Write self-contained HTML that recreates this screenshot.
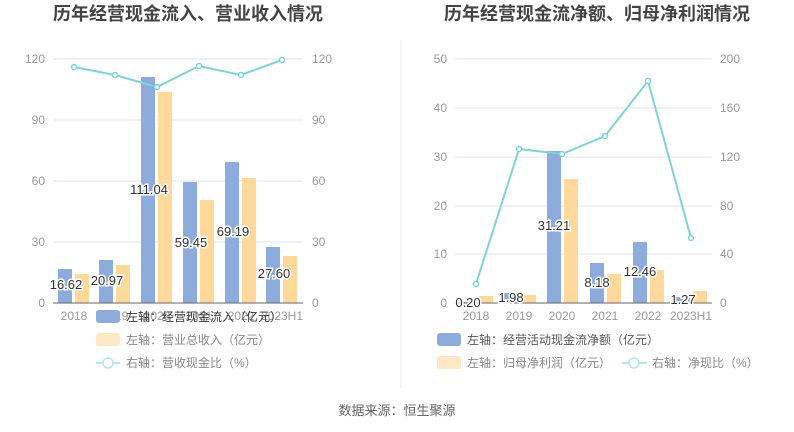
<!DOCTYPE html>
<html><head><meta charset="utf-8"><style>
body{margin:0;background:#fff;}
svg{display:block;font-family:"Liberation Sans","Noto Sans CJK SC",sans-serif;}
.ax{fill:#999;font-size:12px;}
.lg{fill:#888;font-size:12px;}
.lb{fill:#333;font-size:13px;stroke:#fff;stroke-width:3px;paint-order:stroke;}
</style></head><body>
<svg width="794" height="432" viewBox="0 0 794 432">
<rect width="794" height="432" fill="#fff"/>
<text x="188" y="20" text-anchor="middle" font-size="18" font-weight="bold" fill="#444">历年经营现金流入、营业收入情况</text>
<text x="597" y="20" text-anchor="middle" font-size="18" font-weight="bold" fill="#444">历年经营现金流净额、归母净利润情况</text>
<line x1="401" y1="40" x2="401" y2="388" stroke="#eee"/>
<g stroke="#e0e6f1">
<line x1="53" y1="59" x2="303" y2="59"/><line x1="53" y1="120" x2="303" y2="120"/><line x1="53" y1="181" x2="303" y2="181"/><line x1="53" y1="242" x2="303" y2="242"/>
<line x1="455" y1="59" x2="712" y2="59"/><line x1="455" y1="108" x2="712" y2="108"/><line x1="455" y1="157" x2="712" y2="157"/><line x1="455" y1="206" x2="712" y2="206"/><line x1="455" y1="254" x2="712" y2="254"/>
</g>
<g class="ax" text-anchor="end">
<text x="45" y="63">120</text><text x="45" y="124">90</text><text x="45" y="185">60</text><text x="45" y="246">30</text><text x="45" y="307">0</text>
<text x="447" y="63">50</text><text x="447" y="112">40</text><text x="447" y="161">30</text><text x="447" y="210">20</text><text x="447" y="258">10</text><text x="447" y="307">0</text>
</g>
<g class="ax">
<text x="312" y="63">120</text><text x="312" y="124">90</text><text x="312" y="185">60</text><text x="312" y="246">30</text><text x="312" y="307">0</text>
<text x="720" y="63">200</text><text x="720" y="112">160</text><text x="720" y="161">120</text><text x="720" y="210">80</text><text x="720" y="258">40</text><text x="720" y="307">0</text>
</g>
<g fill="#8eacdb">
<rect x="58" y="269" width="14" height="34"/><rect x="99" y="260" width="14" height="43"/><rect x="141" y="77" width="14" height="226"/><rect x="183" y="182" width="14" height="121"/><rect x="225" y="162" width="14" height="141"/><rect x="266" y="247" width="14" height="56"/>
</g>
<g fill="#ffd99b">
<rect x="75" y="274" width="14" height="29"/><rect x="116" y="265" width="14" height="38"/><rect x="158" y="92" width="14" height="211"/><rect x="200" y="200" width="14" height="103"/><rect x="242" y="178" width="14" height="125"/><rect x="283" y="256" width="14" height="47"/>
</g>
<line x1="53" y1="303" x2="303" y2="303" stroke="#666"/>
<polyline points="74,67 115,75 157,87 199,66 241,75 282,60" fill="none" stroke="#7fd3d8" stroke-width="2"/>
<g fill="#fff" stroke="#7fd3d8" stroke-width="1.5">
<circle cx="74" cy="67" r="2.5"/><circle cx="115" cy="75" r="2.5"/><circle cx="157" cy="87" r="2.5"/><circle cx="199" cy="66" r="2.5"/><circle cx="241" cy="75" r="2.5"/><circle cx="282" cy="60" r="2.5"/>
</g>
<g class="ax" text-anchor="middle"><text x="74" y="320">2018</text><text x="115" y="320">2019</text><text x="157" y="320">2020</text><text x="199" y="320">2021</text><text x="241" y="320">2022</text><text x="282" y="320">2023H1</text></g>
<g class="lb" text-anchor="middle"><text x="66" y="289">16.62</text><text x="107" y="285">20.97</text><text x="149" y="194">111.04</text><text x="191" y="247">59.45</text><text x="233" y="236">69.19</text><text x="274" y="278">27.60</text></g>
<g fill="#8eacdb">
<rect x="461" y="302" width="14" height="1"/><rect x="504" y="293" width="14" height="10"/><rect x="547" y="151" width="14" height="152"/><rect x="590" y="263" width="14" height="40"/><rect x="633" y="242" width="14" height="61"/><rect x="676" y="297" width="14" height="6"/>
</g>
<g fill="#ffd99b">
<rect x="479" y="296" width="14" height="7"/><rect x="522" y="295" width="14" height="8"/><rect x="564" y="179" width="14" height="124"/><rect x="607" y="274" width="14" height="29"/><rect x="650" y="270" width="14" height="33"/><rect x="693" y="291" width="14" height="12"/>
</g>
<line x1="455" y1="303" x2="712" y2="303" stroke="#666"/>
<polyline points="476,284 519,149 562,154 605,136 648,81 691,238" fill="none" stroke="#7fd3d8" stroke-width="2"/>
<g fill="#fff" stroke="#7fd3d8" stroke-width="1.5">
<circle cx="476" cy="284" r="2.5"/><circle cx="519" cy="149" r="2.5"/><circle cx="562" cy="154" r="2.5"/><circle cx="605" cy="136" r="2.5"/><circle cx="648" cy="81" r="2.5"/><circle cx="691" cy="238" r="2.5"/>
</g>
<g class="ax" text-anchor="middle"><text x="476" y="320">2018</text><text x="519" y="320">2019</text><text x="562" y="320">2020</text><text x="605" y="320">2021</text><text x="648" y="320">2022</text><text x="691" y="320">2023H1</text></g>
<g class="lb" text-anchor="middle"><text x="468" y="307">0.20</text><text x="511" y="302">1.98</text><text x="554" y="230">31.21</text><text x="597" y="287">8.18</text><text x="640" y="276">12.46</text><text x="683" y="304">1.27</text></g>
<rect x="96" y="310" width="24" height="13" rx="3" fill="#8eacdb"/>
<text x="126" y="321" class="lg" style="fill:#333">左轴：经营现金流入（亿元）</text>
<rect x="96" y="333" width="24" height="13" rx="3" fill="#ffe9c4"/>
<text x="126" y="344" class="lg">左轴：营业总收入（亿元）</text>
<line x1="96" y1="363" x2="120" y2="363" stroke="#b5e6e9" stroke-width="2"/><circle cx="108" cy="363" r="5" fill="#fff" stroke="#b5e6e9" stroke-width="1.5"/>
<text x="126" y="367" class="lg">右轴：营收现金比（%）</text>
<rect x="437" y="333" width="24" height="13" rx="3" fill="#8eacdb"/>
<text x="467" y="344" class="lg" style="fill:#555">左轴：经营活动现金流净额（亿元）</text>
<rect x="437" y="356" width="24" height="13" rx="3" fill="#ffe9c4"/>
<text x="467" y="367" class="lg">左轴：归母净利润（亿元）</text>
<line x1="622" y1="363" x2="647" y2="363" stroke="#b5e6e9" stroke-width="2"/><circle cx="634" cy="363" r="5" fill="#fff" stroke="#b5e6e9" stroke-width="1.5"/>
<text x="652" y="367" class="lg">右轴：净现比（%）</text>
<text x="397" y="415" text-anchor="middle" font-size="13" fill="#666">数据来源：恒生聚源</text>
</svg>
</body></html>
